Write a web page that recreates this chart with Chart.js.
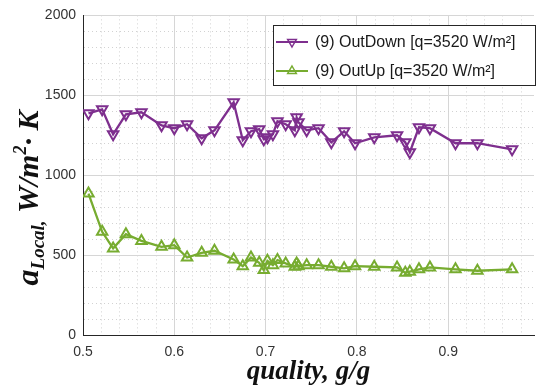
<!DOCTYPE html>
<html>
<head>
<meta charset="utf-8">
<script src="https://cdn.jsdelivr.net/npm/chart.js@4.4.1/dist/chart.umd.min.js"></script>
<style>
  html, body { margin: 0; padding: 0; background: #fff; }
</style>
</head>
<body>
<canvas id="grafico" width="542" height="392"></canvas>
<script>
// valores
const quality = [0.506, 0.521, 0.533, 0.547, 0.564, 0.586, 0.600, 0.614, 0.630, 0.644, 0.665, 0.675,
  0.684, 0.693, 0.698, 0.702, 0.708, 0.713, 0.722, 0.732, 0.734, 0.736, 0.745, 0.758,
  0.772, 0.786, 0.798, 0.819, 0.844, 0.853, 0.858, 0.868, 0.880, 0.908, 0.932, 0.970];
const outDown = [1387, 1412, 1256, 1381, 1394, 1312, 1294, 1319, 1231, 1281, 1456, 1219,
  1275, 1288, 1225, 1237, 1256, 1338, 1319, 1281, 1362, 1331, 1281, 1294,
  1206, 1275, 1200, 1237, 1250, 1206, 1144, 1300, 1294, 1200, 1200, 1162];
const outUp = [885, 646, 542, 631, 589, 552, 562, 485, 514, 527, 473, 431,
  485, 452, 406, 464, 437, 469, 448, 427, 448, 431, 437, 437,
  427, 417, 431, 427, 423, 389, 396, 411, 423, 411, 402, 411];
const etiquetas = ['(9) OutDown [q=3520 W/m²]', '(9) OutUp [q=3520 W/m²]'];

const xMajor = [0.5, 0.6, 0.7, 0.8, 0.9];
const xMinor = [0.52, 0.54, 0.56, 0.58, 0.62, 0.64, 0.66, 0.68, 0.72, 0.74, 0.76, 0.78,
  0.82, 0.84, 0.86, 0.88, 0.92, 0.94, 0.96, 0.98];
const yMajor = [0, 500, 1000, 1500, 2000];
const yMinor = [100, 200, 300, 400, 600, 700, 800, 900, 1100, 1200, 1300, 1400,
  1600, 1700, 1800, 1900];

const morado = '#7E2F8E';
const verde = '#77AC30';

function esMayor(lista, v) {
  return lista.some(m => Math.abs(m - v) < 1e-9);
}

function construirTicks(mayores, menores) {
  return mayores.concat(menores).sort((a, b) => a - b).map(v => ({ value: v }));
}

function serie(valores) {
  return quality.map((q, i) => ({ x: q, y: valores[i] }));
}

function triangulo(ctx, x, y, r, abajo) {
  const s = abajo ? -1 : 1;
  ctx.beginPath();
  ctx.moveTo(x, y - s * r);
  ctx.lineTo(x + r * 0.866, y + s * r * 0.5);
  ctx.lineTo(x - r * 0.866, y + s * r * 0.5);
  ctx.closePath();
  ctx.stroke();
}

// titulo del eje y con subindice y superindice
const tituloY = {
  id: 'tituloY',
  afterDraw(chart) {
    const ctx = chart.ctx;
    const partes = [
      { t: 'a', size: 32, dy: 0 },
      { t: 'Local,', size: 19, dy: 6 },
      { t: ' W/m', size: 30, dy: 0 },
      { t: '2', size: 18, dy: -12 },
      { t: '· K', size: 30, dy: 0 }
    ];
    ctx.save();
    let total = 0;
    partes.forEach(p => {
      ctx.font = 'italic bold ' + p.size + 'px "Liberation Serif"';
      p.w = ctx.measureText(p.t).width;
      total += p.w;
    });
    ctx.translate(38, 198);
    ctx.rotate(-Math.PI / 2);
    ctx.fillStyle = '#111';
    ctx.textBaseline = 'alphabetic';
    let x = -total / 2;
    partes.forEach(p => {
      ctx.font = 'italic bold ' + p.size + 'px "Liberation Serif"';
      ctx.fillText(p.t, x, p.dy);
      x += p.w;
    });
    ctx.restore();
  }
};

// leyenda dentro del area del grafico
const leyenda = {
  id: 'leyenda',
  afterDraw(chart) {
    const ctx = chart.ctx;
    ctx.save();
    ctx.fillStyle = '#fff';
    ctx.fillRect(273.5, 25.5, 262, 60);
    ctx.strokeStyle = '#262626';
    ctx.lineWidth = 1;
    ctx.strokeRect(273.5, 25.5, 262, 60);
    chart.data.datasets.forEach((ds, i) => {
      const y = 42 + i * 29;
      ctx.strokeStyle = ds.borderColor;
      ctx.lineWidth = 2;
      ctx.beginPath();
      ctx.moveTo(276, y);
      ctx.lineTo(308, y);
      ctx.stroke();
      ctx.lineWidth = 1.5;
      triangulo(ctx, 292, y, 5, i === 0);
      ctx.fillStyle = '#1a1a1a';
      ctx.font = '16px "Liberation Sans"';
      ctx.textBaseline = 'middle';
      ctx.fillText(ds.label, 315, y + 1);
    });
    ctx.restore();
  }
};

new Chart(document.getElementById('grafico'), {
  type: 'line',
  data: {
    datasets: [{
      label: etiquetas[0],
      data: serie(outDown),
      borderColor: morado,
      backgroundColor: 'transparent',
      borderWidth: 2.3,
      pointStyle: 'triangle',
      pointRotation: 180,
      pointRadius: 6,
      pointBorderWidth: 2,
      pointBackgroundColor: 'transparent',
      pointBorderColor: morado,
      tension: 0
    }, {
      label: etiquetas[1],
      data: serie(outUp),
      borderColor: verde,
      backgroundColor: 'transparent',
      borderWidth: 2.3,
      pointStyle: 'triangle',
      pointRadius: 6,
      pointBorderWidth: 2,
      pointBackgroundColor: 'transparent',
      pointBorderColor: verde,
      tension: 0
    }]
  },
  options: {
    responsive: false,
    animation: false,
    devicePixelRatio: 1,
    layout: { padding: { top: 15, right: 1, left: 0, bottom: 0 } },
    plugins: {
      legend: { display: false },
      tooltip: { enabled: false }
    },
    scales: {
      x: {
        type: 'linear',
        min: 0.5,
        max: 0.994,
        afterBuildTicks: s => { s.ticks = construirTicks(xMajor, xMinor); },
        afterFit: s => { s.height = 57; },
        ticks: {
          autoSkip: false,
          maxRotation: 0,
          padding: 9,
          color: '#333',
          font: { family: '"Liberation Sans"', size: 14 },
          callback: v => esMayor(xMajor, v) ? String(v) : ''
        },
        grid: {
          drawTicks: false,
          color: c => (c.tick && esMayor(xMajor, c.tick.value)) ? '#d6d6d6' : '#d2d2d2',
          lineWidth: 1
        },
        border: {
          color: '#262626',
          width: 1,
          dash: c => (c.tick && !esMayor(xMajor, c.tick.value)) ? [1, 3] : []
        },
        title: {
          display: true,
          text: 'quality, g/g',
          color: '#111',
          padding: { top: 0, bottom: 4 },
          font: { family: '"Liberation Serif"', size: 27, style: 'italic', weight: 'bold' }
        }
      },
      y: {
        min: 0,
        max: 2000,
        afterBuildTicks: s => { s.ticks = construirTicks(yMajor, yMinor); },
        afterFit: s => { s.width = 83; },
        ticks: {
          autoSkip: false,
          padding: 7,
          color: '#333',
          font: { family: '"Liberation Sans"', size: 14 },
          callback: v => esMayor(yMajor, v) ? String(v) : ''
        },
        grid: {
          drawTicks: false,
          color: c => (c.tick && esMayor(yMajor, c.tick.value)) ? '#d6d6d6' : '#d2d2d2',
          lineWidth: 1
        },
        border: {
          color: '#262626',
          width: 1,
          dash: c => (c.tick && !esMayor(yMajor, c.tick.value)) ? [1, 3] : []
        }
      }
    }
  },
  plugins: [tituloY, leyenda]
});
</script>
</body>
</html>
